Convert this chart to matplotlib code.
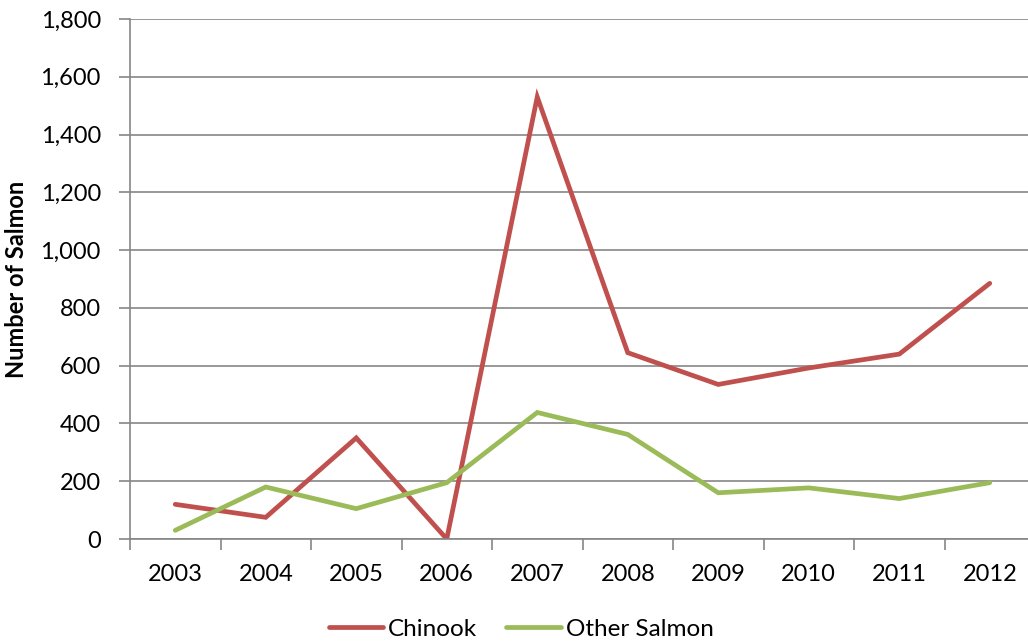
import numpy as np
import matplotlib.pyplot as plt
from matplotlib.ticker import FuncFormatter

years = ['2003', '2004', '2005', '2006', '2007', '2008', '2009', '2010', '2011', '2012']
chinook = [120, 75, 350, 0, 1530, 645, 535, 592, 640, 885]
other_salmon = [30, 180, 105, 195, 438, 362, 160, 177, 140, 195]

plt.rcParams['font.family'] = ['Lato', 'DejaVu Sans']

fig = plt.figure(figsize=(10.28, 6.42), dpi=100)
ax = fig.add_axes([130 / 1028, 1 - 539 / 642, 905 / 1028, 520 / 642])

x = np.arange(len(years))
ax.plot(x, chinook, color='#C0504D', lw=3.4, label='Chinook', solid_capstyle='round', solid_joinstyle='miter')
ax.plot(x, other_salmon, color='#9BBB59', lw=3.4, label='Other Salmon', solid_capstyle='round', solid_joinstyle='miter')

ax.set_xlim(-0.5, len(years) - 0.5)
ax.set_ylim(0, 1800)
ax.set_yticks(np.arange(0, 1801, 200))
ax.yaxis.set_major_formatter(FuncFormatter(lambda v, p: f'{int(v):,}'))
ax.grid(axis='y', color='#868686', lw=1.2)
ax.set_axisbelow(True)

ax.set_xticks(x)
ax.set_xticklabels(years)
ax.set_xticks(np.arange(-0.5, len(years), 1), minor=True)
ax.tick_params(axis='x', which='major', length=0, pad=18, labelsize=17)
ax.tick_params(axis='x', which='minor', length=8, width=1.2, color='#868686')
ax.tick_params(axis='y', length=8, width=1.2, color='#868686', pad=13, labelsize=17)

for s in ['top', 'right']:
    ax.spines[s].set_visible(False)
for s in ['left', 'bottom']:
    ax.spines[s].set_color('#868686')
    ax.spines[s].set_linewidth(1.2)

ax.set_ylabel('Number of Salmon', fontsize=17, fontweight='bold', labelpad=9)

fig.legend(loc='center', bbox_to_anchor=(0.507, 1 - 629 / 642), ncol=2, frameon=False,
           fontsize=17.5, handlelength=2.25, handletextpad=0.2, columnspacing=1.2,
           borderpad=0, borderaxespad=0)

fig.savefig('out.png', dpi=100)
